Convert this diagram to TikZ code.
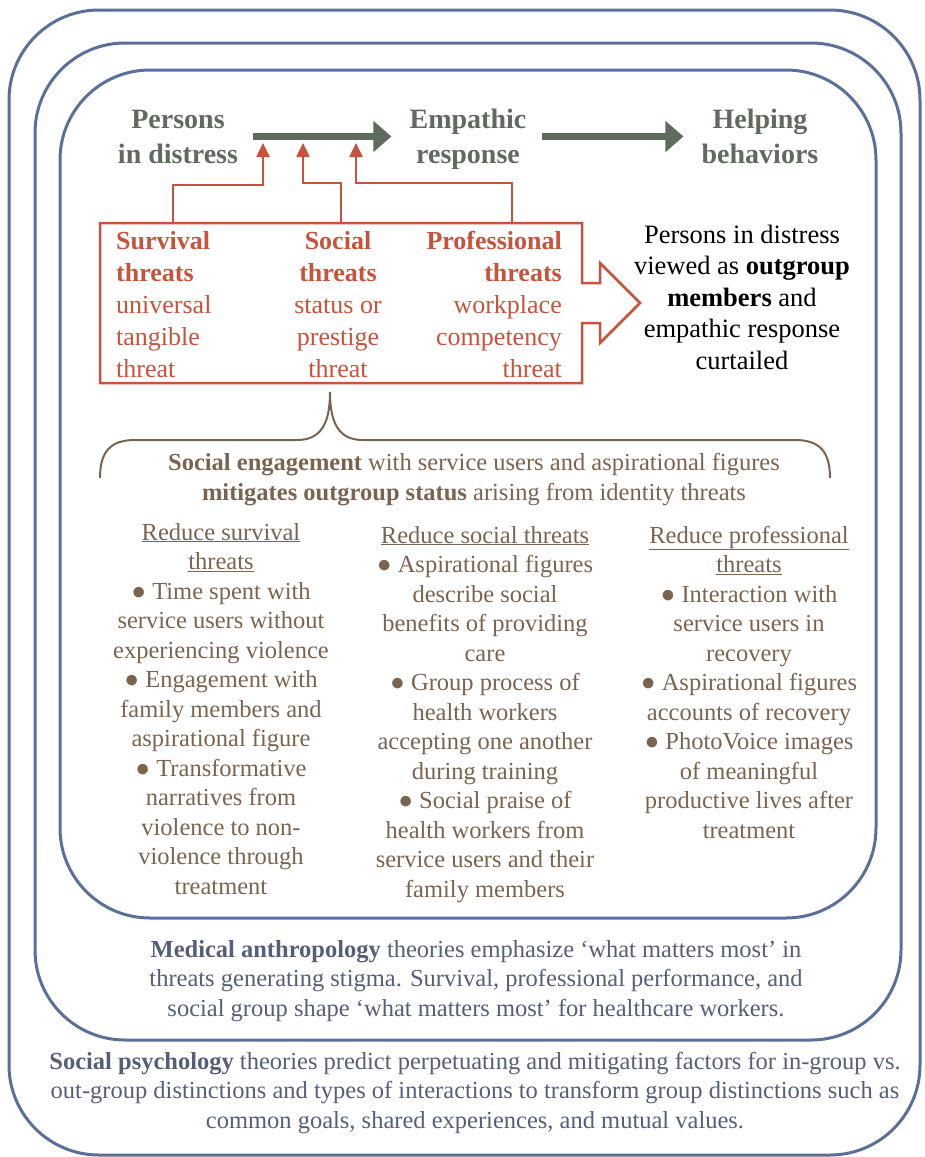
\documentclass[tikz,border=0pt]{standalone}
\usepackage{fontspec}
\setmainfont{LiberationSerif}[Extension=.ttf, UprightFont=*-Regular, BoldFont=*-Bold, ItalicFont=*-Italic, BoldItalicFont=*-BoldItalic]
\usepackage{xcolor}
\usetikzlibrary{arrows.meta,positioning}

\definecolor{frameblue}{RGB}{91,111,155}
\definecolor{headgreen}{RGB}{95,107,93}
\definecolor{threatred}{RGB}{200,83,60}
\definecolor{mitbrown}{RGB}{122,100,80}
\definecolor{theoryblue}{RGB}{85,95,120}

\begin{document}
\begin{tikzpicture}[
    x=1pt, y=-1pt,
    frame/.style={draw=frameblue, line width=3pt, rounded corners=90pt},
    head/.style={font=\fontsize{28}{35}\selectfont\bfseries, text=headgreen, align=center, inner sep=0pt, anchor=base},
    flow/.style={draw=headgreen, line width=7pt, -{Triangle[length=18pt,width=30pt]}, shorten <=15pt, shorten >=18pt},
    threat/.style={font=\fontsize{26}{32}\selectfont, text=threatred, inner sep=0pt},
    outline/.style={draw=threatred, line width=2.5pt},
    hit/.style={draw=threatred, line width=2.5pt, -{Triangle[length=14pt,width=13pt]}},
    note/.style={font=\fontsize{26.5}{31.5}\selectfont, align=center, inner sep=0pt, anchor=base},
    brace/.style={draw=mitbrown, line width=2pt},
    mitig/.style={font=\fontsize{24.5}{29.5}\selectfont, text=mitbrown, align=center, inner sep=0pt, anchor=base},
    theory/.style={font=\fontsize{24.5}{29.3}\selectfont, text=theoryblue, align=center, inner sep=0pt, anchor=base}
]
    \useasboundingbox (0,0) rectangle (924,1157);

    \draw[frame] (9,10) rectangle (920,1155);
    \draw[frame] (35,43) rectangle (901,1040);
    \draw[frame] (60,70) rectangle (876,918);

    \node [head] (persons) at (178,163) {Persons\\in distress};
    \node [head] (empathic) at (468,163) {Empathic\\response};
    \node [head] (helping) at (760,163) {Helping\\behaviors};

    \path [flow] (persons.east) -- (persons.east -| empathic.west);
    \path [flow] (empathic.east |- persons.east) -- (helping.west |- persons.east);

    \path [outline] (100,223) -- (582,223) -- (582,283) -- (600,283) -- (600,263) -- (640,303)
        -- (600,343) -- (600,323) -- (582,323) -- (582,383) -- (100,383) -- cycle;

    \node [threat, align=left, anchor=base west] (survival) at (116,377)
        {\textbf{Survival}\\\textbf{threats}\\universal\\tangible\\threat};
    \node [threat, align=center, anchor=base] (social) at (338,377)
        {\textbf{Social}\\\textbf{threats}\\status or\\prestige\\threat};
    \node [threat, align=right, anchor=base east] (professional) at (562,377)
        {\textbf{Professional}\\\textbf{threats}\\workplace\\competency\\threat};

    \coordinate (s1) at (173,223);
    \coordinate (s2) at (341,223);
    \coordinate (s3) at (512,223);
    \coordinate (t1) at (263,143);
    \coordinate (t2) at (303,143);
    \coordinate (t3) at (356,143);
    \path [hit] (s1) -- ++(0,-38) -| (t1);
    \path [hit] (s2) -- ++(0,-40) -| (t2);
    \path [hit] (s3) -- ++(0,-40) -| (t3);

    \node [note] (outgroup) at (742,369)
        {Persons in distress\\viewed as \textbf{outgroup}\\\textbf{members} and\\empathic response\\curtailed};

    \coordinate (tip) at (330,392);
    \path [brace] (100,478) .. controls (100,452) and (110,440) .. (135,440) -- (297,440)
        .. controls (320,440) and (330,425) .. (tip)
        .. controls (330,425) and (340,440) .. (363,440) -- (795,440)
        .. controls (820,440) and (830,452) .. (830,478);

    \node [mitig] (engage) at (474,500)
        {\textbf{Social engagement} with service users and aspirational figures\\\textbf{mitigates outgroup status} arising from identity threats};

    \node [mitig] (redsurv) at (221,894)
        {\underline{Reduce survival}\\\underline{threats}\\● Time spent with\\service users without\\experiencing violence\\● Engagement with\\family members and\\aspirational figure\\● Transformative\\narratives from\\violence to non-\\violence through\\treatment};
    \node [mitig] (redsoc) at (485,897)
        {\underline{Reduce social threats}\\● Aspirational figures\\describe social\\benefits of providing\\care\\● Group process of\\health workers\\accepting one another\\during training\\● Social praise of\\health workers from\\service users and their\\family members};
    \node [mitig] (redprof) at (749,838)
        {\underline{Reduce professional}\\\underline{threats}\\● Interaction with\\service users in\\recovery\\● Aspirational figures\\accounts of recovery\\● PhotoVoice images\\of meaningful\\productive lives after\\treatment};

    \node [theory] (medanth) at (476,1016)
        {\textbf{Medical anthropology} theories emphasize ‘what matters most’ in\\threats generating stigma. Survival, professional performance, and\\social group shape ‘what matters most’ for healthcare workers.};
    \node [theory] (socpsy) at (475,1128)
        {\textbf{Social psychology} theories predict perpetuating and mitigating factors for in-group vs.\\out-group distinctions and types of interactions to transform group distinctions such as\\common goals, shared experiences, and mutual values.};
\end{tikzpicture}
\end{document}
